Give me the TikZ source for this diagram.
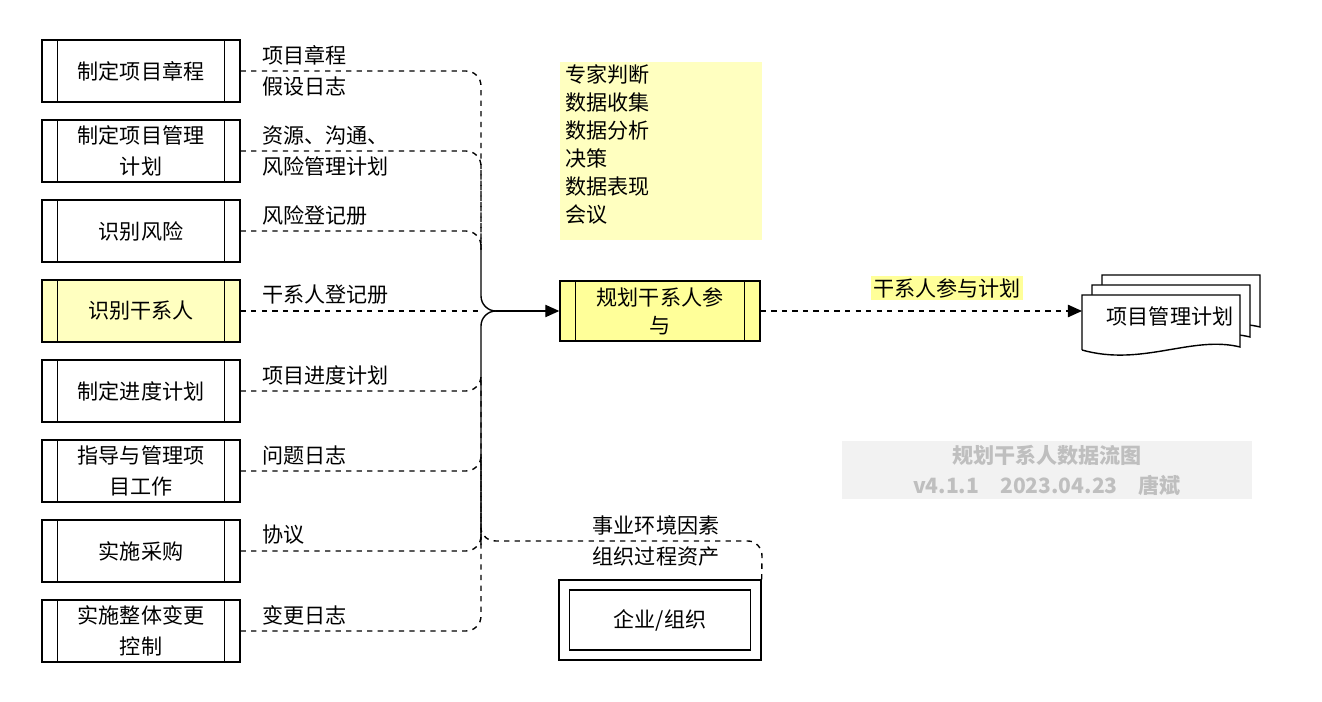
\documentclass[tikz,border=0pt]{standalone}
\usepackage{fontspec}
\setmainfont{Noto Sans CJK SC}
\usetikzlibrary{arrows.meta,positioning}
\definecolor{lyel}{HTML}{FFFFC0}
\definecolor{byel}{HTML}{FFFF99}
\tikzset{every node/.style={inner sep=0pt,font=\fontsize{12}{18}\selectfont}}
\tikzset{proc/.style={rectangle,draw,thick,minimum width=3.96cm,minimum height=1.24cm,align=center,fill=white}}
\tikzset{lab/.style={anchor=west,align=left}}
\tikzset{flow/.style={dashed,thick}}
\newcommand{\sides}[1]{\draw[thick] ([xshift=0.32cm]#1.north west) -- ([xshift=0.32cm]#1.south west)
  ([xshift=-0.32cm]#1.north east) -- ([xshift=-0.32cm]#1.south east);}
\newcommand{\docpage}[2]{\draw[thick,fill=white] (#1,#2+55) -- (#1,#2) -- (#1+158,#2) -- (#1+158,#2+52)
  .. controls (#1+110,#2+40) and (#1+60,#2+72) .. (#1,#2+55);}
\begin{document}
\begin{tikzpicture}[x=0.02cm,y=-0.02cm]
  \useasboundingbox (0,0) rectangle (1322,702);
  % inputs
  \node[proc] (b1) at (141,71) {制定项目章程};
  \node[proc] (b2) at (141,151) {制定项目管理\\计划};
  \node[proc] (b3) at (141,231) {识别风险};
  \node[proc,fill=lyel] (b4) at (141,311) {识别干系人};
  \node[proc] (b5) at (141,391) {制定进度计划};
  \node[proc] (b6) at (141,471) {指导与管理项\\目工作};
  \node[proc] (b7) at (141,551) {实施采购};
  \node[proc] (b8) at (141,631) {实施整体变更\\控制};
  \foreach \b in {b1,b2,b3,b4,b5,b6,b7,b8} {\sides{\b}}
  \node[lab] (l1) at (262,71) {项目章程\\假设日志};
  \node[lab] (l2) at (262,151) {资源、沟通、\\风险管理计划};
  \node[lab] (l3) at (262,215) {风险登记册};
  \node[lab] (l4) at (262,295) {干系人登记册};
  \node[lab] (l5) at (262,375) {项目进度计划};
  \node[lab] (l6) at (262,455) {问题日志};
  \node[lab] (l7) at (262,535) {协议};
  \node[lab] (l8) at (262,615) {变更日志};
  % tools
  \node[fill=lyel,minimum width=4.04cm,minimum height=3.56cm] (tools) at (661,151) {};
  \node[anchor=north west,align=left,font=\fontsize{12}{16}\selectfont] (tt) at (565,64) {专家判断\\数据收集\\数据分析\\决策\\数据表现\\会议};
  % process
  \node[proc,fill=byel,minimum width=4cm,minimum height=1.2cm,font=\fontsize{12}{16}\selectfont] (p) at (660,311) {规划干系人参\\与};
  \sides{p}
  \coordinate (t) at (481,311);
  % feeds
  \foreach \b in {b1,b2,b3} {\draw[flow] (\b.east) -- (\b.east -| 466,0) to[out=0,in=90] ([yshift=-0.3cm]\b.east -| t) -- (481,250);}
  \foreach \b in {b5,b6,b7,b8} {\draw[flow] (\b.east) -- (\b.east -| 466,0) to[out=0,in=-90] ([yshift=0.3cm]\b.east -| t) -- (481,540);}
  \draw[flow] (b4.east) -- (t);
  \draw[thick] (481,245) -- (481,296) to[out=-90,in=180] (496,311);
  \draw[thick] (481,545) -- (481,326) to[out=90,in=180] (496,311);
  \draw[thick,-{Triangle[length=8pt,width=7pt]}] (496,311) -- (p.west);
  % environment
  \node[draw,thick,minimum width=4.04cm,minimum height=1.6cm] (env) at (660,620) {};
  \node[draw,thick,minimum width=3.62cm,minimum height=1.2cm] (org) at (660,620) {企业/组织};
  \node[align=center] (el) at (656,541) {事业环境因素\\组织过程资产};
  \draw[flow] (env.north east) -- (762,556) to[out=90,in=0] (748,541) -- (496,541) to[out=180,in=-90] (481,528);
  % output
  \docpage{1102}{275}
  \docpage{1092}{285}
  \docpage{1082}{295}
  \node (doc) at (1170,316) {项目管理计划};
  \coordinate (din) at (1082,311);
  \draw[flow,-{Triangle[length=8pt,width=7pt]}] (p.east) -- (din);
  \node[fill=byel,inner sep=1pt] (ol) at (947,288) {干系人参与计划};
  % watermark
  \node[fill=black!5,minimum width=8.2cm,minimum height=1.16cm,align=center,text=black!25,font=\fontsize{12}{17}\selectfont\bfseries] (wm) at (1047,470) {规划干系人数据流图\\v4.1.1\quad 2023.04.23\quad 唐斌};
\end{tikzpicture}
\end{document}
